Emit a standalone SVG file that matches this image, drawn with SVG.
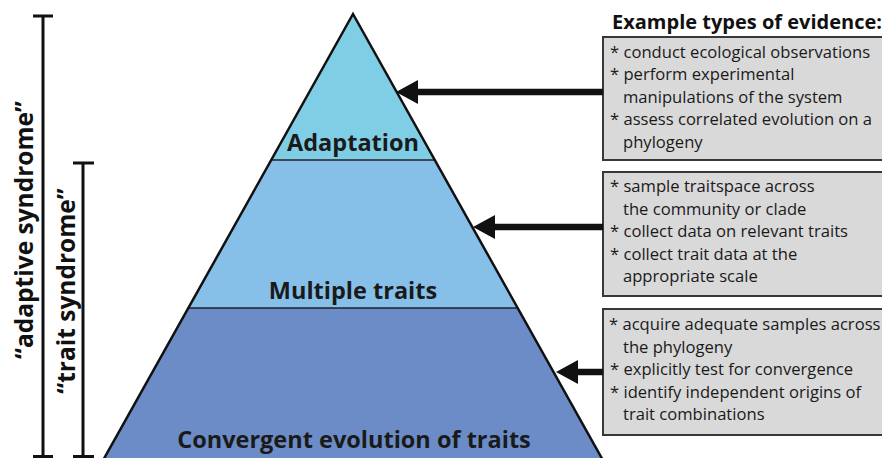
<svg xmlns="http://www.w3.org/2000/svg" width="882" height="458" viewBox="0 0 882 458">
<style>
.bt{font-family:"Open Sans","Noto Sans","Liberation Sans",sans-serif;font-size:16.6px;fill:#1a1a1a}
.lvl{font-family:"Open Sans","Noto Sans","Liberation Sans",sans-serif;font-size:23.5px;font-weight:700;fill:#1a1a1a;text-anchor:middle}
.hd{font-family:"Open Sans","Noto Sans","Liberation Sans",sans-serif;font-size:20px;font-weight:700;fill:#111}
.rot{font-family:"Open Sans","Noto Sans","Liberation Sans",sans-serif;font-size:24.5px;font-weight:700;fill:#111;text-anchor:middle}
.box{fill:#d9d9d9;stroke:#383838;stroke-width:2}
.br{stroke:#111;stroke-width:3;fill:none}
.arr{stroke:#111;stroke-width:6.5;fill:none}
.sep{stroke:#222;stroke-width:1.5}
</style>
<defs>
<marker id="head" markerUnits="userSpaceOnUse" markerWidth="22" markerHeight="26" viewBox="0 -13 22 26" refX="0" refY="0" orient="auto">
<path d="M0,-12 L22,0 L0,12 Z" fill="#111"/>
</marker>
</defs>
<g id="pyramid">
<g id="node-adaptation">
<polygon points="353,14 434.8,160 271.2,160" fill="#80cde6"/>
<text class="lvl" x="353" y="151">Adaptation</text>
</g>
<g id="node-multiple-traits">
<polygon points="271.2,160 434.8,160 517.6,308 188.4,308" fill="#86c0e8"/>
<text class="lvl" x="353" y="299">Multiple traits</text>
</g>
<g id="node-convergent">
<polygon points="188.4,308 517.6,308 602.8,460 103.2,460" fill="#6b8cc6"/>
<text class="lvl" x="354" y="448">Convergent evolution of traits</text>
</g>
<line class="sep" x1="271.2" y1="160" x2="434.8" y2="160"/>
<line class="sep" x1="188.4" y1="308" x2="517.6" y2="308"/>
<polyline points="103.2,460 353,14 602.8,460" fill="none" stroke="#111" stroke-width="2.5" stroke-linejoin="miter"/>
</g>
<g id="bracket-adaptive">
<path class="br" d="M33,16 H53 M43,16 V458 M33,456.5 H53"/>
<text class="rot" transform="translate(33,230) rotate(-90)">“adaptive syndrome”</text>
</g>
<g id="bracket-trait">
<path class="br" d="M73,163 H94 M83,163 V458 M73,456.5 H94"/>
<text class="rot" transform="translate(75,291) rotate(-90)">“trait syndrome”</text>
</g>
<g id="header">
<text class="hd" x="612" y="29">Example types of evidence:</text>
</g>
<g id="box-1">
<rect class="box" x="603" y="37" width="300" height="123"/>
<text class="bt" x="610" y="57.5">* conduct ecological observations</text>
<text class="bt" x="610" y="80">* perform experimental</text>
<text class="bt" x="623" y="102.5">manipulations of the system</text>
<text class="bt" x="610" y="125">* assess correlated evolution on a</text>
<text class="bt" x="623" y="147.5">phylogeny</text>
</g>
<g id="box-2">
<rect class="box" x="603" y="172" width="300" height="124"/>
<text class="bt" x="610" y="192">* sample traitspace across</text>
<text class="bt" x="623" y="214.5">the community or clade</text>
<text class="bt" x="610" y="237">* collect data on relevant traits</text>
<text class="bt" x="610" y="259.5">* collect trait data at the</text>
<text class="bt" x="623" y="282">appropriate scale</text>
</g>
<g id="box-3">
<rect class="box" x="603" y="309" width="300" height="126"/>
<text class="bt" x="609" y="330">* acquire adequate samples across</text>
<text class="bt" x="623" y="352.5">the phylogeny</text>
<text class="bt" x="610" y="375">* explicitly test for convergence</text>
<text class="bt" x="610" y="397.5">* identify independent origins of</text>
<text class="bt" x="623" y="420">trait combinations</text>
</g>
<g id="connectors">
<line class="arr" x1="603" y1="92" x2="418" y2="92" marker-end="url(#head)"/>
<line class="arr" x1="603" y1="227" x2="495" y2="227" marker-end="url(#head)"/>
<line class="arr" x1="603" y1="372" x2="578" y2="372" marker-end="url(#head)"/>
</g>
</svg>
